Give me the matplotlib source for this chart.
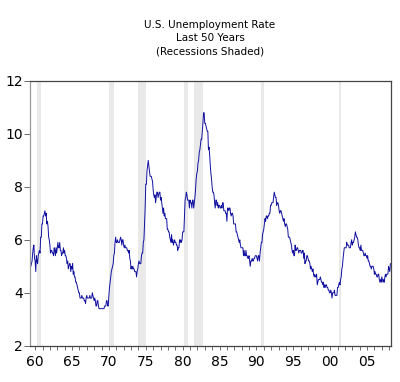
import numpy as np
import matplotlib
matplotlib.use('Agg')
import matplotlib.pyplot as plt

# monthly US unemployment rate, Apr 1959 - Mar 2008
rate_1959_1969 = [
    5.2, 5.1, 5.0, 5.1, 5.2, 5.5, 5.7, 5.8, 5.3,
    5.2, 4.8, 5.4, 5.2, 5.1, 5.4, 5.5, 5.6, 5.5, 6.1, 6.1, 6.6,
    6.6, 6.9, 6.9, 7.0, 7.1, 6.9, 7.0, 6.6, 6.7, 6.5, 6.1, 6.0,
    5.8, 5.5, 5.6, 5.6, 5.5, 5.5, 5.4, 5.7, 5.6, 5.4, 5.7, 5.5,
    5.7, 5.9, 5.7, 5.7, 5.9, 5.6, 5.6, 5.4, 5.5, 5.5, 5.7, 5.5,
    5.6, 5.4, 5.4, 5.3, 5.1, 5.2, 4.9, 5.0, 5.1, 5.1, 4.8, 5.0,
    4.9, 5.1, 4.7, 4.8, 4.6, 4.6, 4.4, 4.4, 4.3, 4.2, 4.1, 4.0,
    4.0, 3.8, 3.8, 3.8, 3.9, 3.8, 3.8, 3.8, 3.7, 3.7, 3.6, 3.8,
    3.9, 3.8, 3.8, 3.8, 3.8, 3.9, 3.8, 3.8, 3.8, 4.0, 3.9, 3.8,
    3.7, 3.8, 3.7, 3.5, 3.5, 3.7, 3.7, 3.5, 3.4, 3.4, 3.4, 3.4,
    3.4, 3.4, 3.4, 3.4, 3.4, 3.5, 3.5, 3.5, 3.7, 3.7, 3.5, 3.5,
]
rate_1970s = [
    3.9, 4.2, 4.4, 4.6, 4.8, 4.9, 5.0, 5.1, 5.4, 5.5, 5.9, 6.1,
    5.9, 5.9, 6.0, 5.9, 5.9, 5.9, 6.0, 6.1, 6.0, 5.8, 6.0, 6.0,
    5.8, 5.7, 5.8, 5.7, 5.7, 5.7, 5.6, 5.6, 5.5, 5.6, 5.3, 5.2,
    4.9, 5.0, 4.9, 5.0, 4.9, 4.9, 4.8, 4.8, 4.8, 4.6, 4.8, 4.9,
    5.1, 5.2, 5.1, 5.1, 5.1, 5.4, 5.5, 5.5, 5.9, 6.0, 6.6, 7.2,
    8.1, 8.1, 8.6, 8.8, 9.0, 8.8, 8.6, 8.4, 8.4, 8.4, 8.3, 8.2,
    7.9, 7.7, 7.6, 7.7, 7.4, 7.6, 7.8, 7.8, 7.6, 7.7, 7.8, 7.8,
    7.5, 7.6, 7.4, 7.2, 7.0, 7.2, 6.9, 7.0, 6.8, 6.8, 6.8, 6.4,
    6.4, 6.3, 6.3, 6.1, 6.0, 5.9, 6.2, 5.9, 6.0, 5.8, 5.9, 6.0,
    5.9, 5.9, 5.8, 5.8, 5.6, 5.7, 5.7, 6.0, 5.9, 6.0, 5.9, 6.0,
]
rate_1980s = [
    6.3, 6.3, 6.3, 6.9, 7.5, 7.6, 7.8, 7.7, 7.5, 7.5, 7.5, 7.2,
    7.5, 7.4, 7.4, 7.2, 7.5, 7.5, 7.2, 7.4, 7.6, 7.9, 8.3, 8.5,
    8.6, 8.9, 9.0, 9.3, 9.4, 9.6, 9.8, 9.8, 10.1, 10.4, 10.8, 10.8,
    10.4, 10.4, 10.3, 10.2, 10.1, 10.1, 9.4, 9.5, 9.2, 8.8, 8.5, 8.3,
    8.0, 7.8, 7.8, 7.7, 7.4, 7.2, 7.5, 7.5, 7.3, 7.4, 7.2, 7.3,
    7.3, 7.2, 7.2, 7.3, 7.2, 7.4, 7.4, 7.1, 7.1, 7.1, 7.0, 7.0,
    6.7, 7.2, 7.2, 7.1, 7.2, 7.2, 7.0, 6.9, 7.0, 7.0, 6.9, 6.6,
    6.6, 6.6, 6.6, 6.3, 6.3, 6.2, 6.1, 6.0, 5.9, 6.0, 5.8, 5.7,
    5.7, 5.7, 5.7, 5.4, 5.6, 5.4, 5.4, 5.6, 5.4, 5.4, 5.3, 5.3,
    5.4, 5.2, 5.0, 5.2, 5.2, 5.3, 5.2, 5.2, 5.3, 5.3, 5.4, 5.4,
]
rate_1990s = [
    5.4, 5.3, 5.2, 5.4, 5.4, 5.2, 5.5, 5.7, 5.9, 5.9, 6.2, 6.3,
    6.4, 6.6, 6.8, 6.7, 6.9, 6.9, 6.8, 6.9, 6.9, 7.0, 7.0, 7.3,
    7.3, 7.4, 7.4, 7.4, 7.6, 7.8, 7.7, 7.6, 7.6, 7.3, 7.4, 7.4,
    7.3, 7.1, 7.0, 7.1, 7.1, 7.0, 6.9, 6.8, 6.7, 6.8, 6.6, 6.5,
    6.6, 6.6, 6.5, 6.4, 6.1, 6.1, 6.1, 6.0, 5.9, 5.8, 5.6, 5.5,
    5.6, 5.4, 5.4, 5.8, 5.6, 5.6, 5.7, 5.7, 5.6, 5.5, 5.6, 5.6,
    5.6, 5.5, 5.5, 5.6, 5.6, 5.3, 5.5, 5.1, 5.2, 5.2, 5.4, 5.4,
    5.3, 5.2, 5.2, 5.1, 4.9, 5.0, 4.9, 4.8, 4.9, 4.7, 4.6, 4.7,
    4.6, 4.6, 4.7, 4.3, 4.4, 4.5, 4.5, 4.5, 4.6, 4.5, 4.4, 4.4,
    4.3, 4.4, 4.2, 4.3, 4.2, 4.3, 4.3, 4.2, 4.2, 4.1, 4.1, 4.0,
]
rate_2000s = [
    4.0, 4.1, 4.0, 3.8, 4.0, 4.0, 4.0, 4.1, 3.9, 3.9, 3.9, 3.9,
    4.2, 4.2, 4.3, 4.4, 4.3, 4.5, 4.6, 4.9, 5.0, 5.3, 5.5, 5.7,
    5.7, 5.7, 5.7, 5.9, 5.8, 5.8, 5.8, 5.7, 5.7, 5.7, 5.9, 6.0,
    5.8, 5.9, 5.9, 6.0, 6.1, 6.3, 6.2, 6.1, 6.1, 6.0, 5.8, 5.7,
    5.7, 5.6, 5.8, 5.6, 5.6, 5.6, 5.5, 5.4, 5.4, 5.5, 5.4, 5.4,
    5.3, 5.4, 5.2, 5.2, 5.1, 5.0, 5.0, 4.9, 5.0, 5.0, 5.0, 4.9,
    4.7, 4.8, 4.7, 4.7, 4.6, 4.6, 4.7, 4.7, 4.5, 4.4, 4.5, 4.4,
    4.6, 4.5, 4.4, 4.5, 4.4, 4.6, 4.7, 4.6, 4.7, 4.7, 4.7, 5.0,
    4.9, 4.8, 5.1,
]

# recession bands (decimal years)
rec_start = [1960.3, 1970.0, 1973.9, 1980.2, 1981.5, 1990.6, 2001.2]
rec_end = [1960.8, 1970.7, 1975.0, 1980.75, 1982.7, 1991.0, 2001.5]

rate = np.array(rate_1959_1969 + rate_1970s + rate_1980s + rate_1990s + rate_2000s)
t = 1959.25 + np.arange(len(rate)) / 12.0

fig = plt.figure(figsize=(4.0, 3.82), dpi=100)
ax = fig.add_axes([0.074, 0.095, 0.9035, 0.693])

for s, e in zip(rec_start, rec_end):
    ax.axvspan(s, e, color='#e9e9e9', lw=0, zorder=0)

ax.plot(t, rate, color='#1010a0', lw=0.7, zorder=2)

ax.set_xlim(1959.25, 2008.25)
ax.set_ylim(2, 12)

major = np.arange(1960, 2006, 5)
ax.set_xticks(major)
ax.set_xticklabels(['%02d' % (y % 100) for y in major])
ax.set_xticks(np.arange(1960, 2009), minor=True)
ax.set_yticks([2, 4, 6, 8, 10, 12])

ax.tick_params(axis='x', which='both', direction='out', length=3, width=0.6,
               color='#555555', labelsize=10, pad=4)
ax.tick_params(axis='y', direction='out', length=4, width=0.6,
               color='#555555', labelsize=10, pad=1)

ax.spines['left'].set_color('#999999')
for side in ['top', 'right', 'bottom']:
    ax.spines[side].set_color('#444444')
for sp in ax.spines.values():
    sp.set_linewidth(0.9)

fig.text(0.525, 0.90, 'U.S. Unemployment Rate\nLast 50 Years\n(Recessions Shaded)',
         ha='center', va='center', fontsize=7.5, linespacing=1.35)

plt.savefig('out.png', dpi=100)
